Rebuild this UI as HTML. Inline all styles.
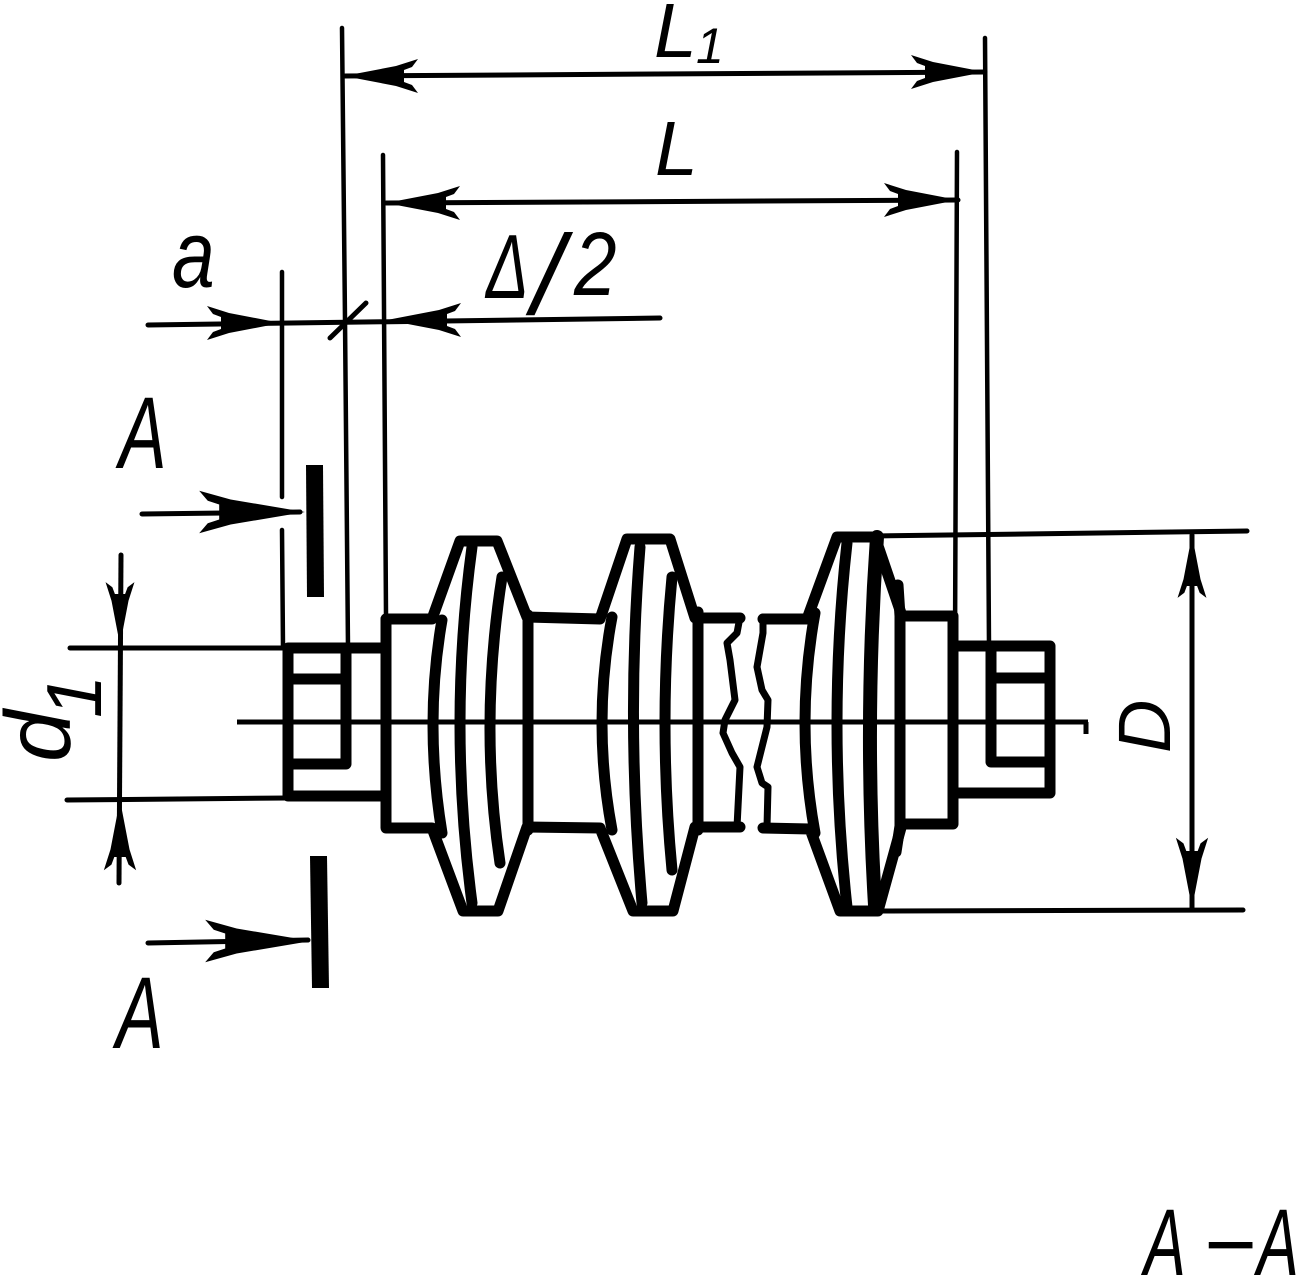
<!DOCTYPE html>
<html>
<head>
<meta charset="utf-8">
<style>
html,body{margin:0;padding:0;background:#fff;}
svg{display:block;}
text{font-family:"Liberation Sans",sans-serif;font-style:italic;fill:#000;}
</style>
</head>
<body>
<svg width="1304" height="1278" viewBox="0 0 1304 1278" xmlns="http://www.w3.org/2000/svg">
<defs>
  <path id="ar" d="M0,0 L-52,-10 L-74,-17 L-68,-9 L-60,-6 L-60,6 L-68,9 L-74,17 L-52,10 Z" fill="#000"/>
</defs>
<rect width="1304" height="1278" fill="#fff"/>

<!-- thin dimension / extension lines -->
<g stroke="#000" stroke-width="5" fill="none" stroke-linecap="round">
  <path d="M344,76 L985,72"/>
  <path d="M386,203 L958,200"/>
  <path d="M148,325 L660,318"/>
  <path d="M121,555 L119,883"/>
  <path d="M1192,535 L1192,908"/>
  <path d="M142,514 L300,512"/>
  <path d="M148,943 L308,940"/>
  <path d="M70,648 L288,648"/>
  <path d="M67,800 L288,798"/>
  <path d="M875,536 L1247,531"/>
  <path d="M878,911 L1243,910"/>
  <path d="M330,338 L366,303"/>
</g>
<g stroke="#000" stroke-width="4.5" fill="none" stroke-linecap="round">
  <path d="M342,28 L345,320 L348,648"/>
  <path d="M985,38 L989,646"/>
  <path d="M383,155 L386,615"/>
  <path d="M957,152 L955,646"/>
  <path d="M282,272 L282,497 M282,530 L283,648"/>
</g>

<!-- centerline -->
<g stroke="#000" stroke-width="5" fill="none">
  <path d="M237,722 L1088,722"/>
  <path d="M1086,722 L1086,734"/>
</g>

<!-- main body outline -->
<g stroke="#000" stroke-width="11" fill="none" stroke-linejoin="round" stroke-linecap="round">
  <path d="M386,619 L432,619 L460,541 L497,541 L527,617 L600,619 L627,539 L670,539 L695,618 L740,618"/>
  <path d="M386,619 L386,828 L432,828 L463,911 L498,911 L527,827 L600,828 L633,911 L673,911 L695,827 L740,827"/>
  <path d="M763,619 L807,619 L837,537 L875,537 L902,616 L953,616 L953,824 L902,824 L878,911 L840,911 L810,829 L763,828"/>
  <!-- shed 1 inner -->
  <path d="M442,620 Q424,723 442,833"/>
  <path d="M472,547 Q448,723 472,903"/>
  <path d="M502,577 Q479,723 500,863"/>
  <path d="M528,615 L528,830"/>
  <!-- shed 2 inner -->
  <path d="M612,617 Q592,723 612,830"/>
  <path d="M640,547 Q626,723 642,903"/>
  <path d="M672,577 Q658,723 672,870"/>
  <path d="M698,612 L698,830"/>
  <!-- shed 3 inner -->
  <path d="M815,613 Q795,723 815,833"/>
  <path d="M847,543 Q827,723 847,907"/>
  <path d="M877,537 Q864,723 875,905" stroke-width="14"/>
  <path d="M898,585 L900,616 L900,826 L896,852"/>
  <!-- left cap -->
  <path d="M386,648 L288,648 L288,796 L386,796"/>
  <path d="M288,679 L346,679 M346,648 L346,764 L288,764"/>
  <!-- right cap -->
  <path d="M953,646 L1050,646 L1050,793 L953,793"/>
  <path d="M991,646 L991,762 L1050,762 M991,678 L1050,678"/>
</g>

<!-- break lines -->
<g stroke="#000" stroke-width="7" fill="none" stroke-linejoin="round" stroke-linecap="round">
  <path d="M740,617 L737,633 L727,643 L730,660 L735,700 L725,720 L723,733 L732,753 L740,767 L737,827"/>
  <path d="M763,617 L763,633 L757,667 L762,690 L768,700 L767,727 L757,767 L762,783 L768,787 L767,827"/>
</g>

<!-- section bars -->
<polygon points="306,465 323,465 324,597 307,597" fill="#000"/>
<polygon points="310,856 327,856 329,988 312,988" fill="#000"/>

<!-- arrowheads -->
<use href="#ar" transform="translate(344,76) rotate(180)"/>
<use href="#ar" transform="translate(985,72)"/>
<use href="#ar" transform="translate(386,203) rotate(180)"/>
<use href="#ar" transform="translate(958,200)"/>
<use href="#ar" transform="translate(281,323)"/>
<use href="#ar" transform="translate(387,320) rotate(180)"/>
<use href="#ar" transform="translate(120,645) rotate(90) scale(0.85)"/>
<use href="#ar" transform="translate(120,800) rotate(-90) scale(0.95)"/>
<use href="#ar" transform="translate(1192,535) rotate(-90) scale(0.85)"/>
<use href="#ar" transform="translate(1192,908) rotate(90) scale(0.95)"/>
<use href="#ar" transform="translate(305,512) scale(1.43,1.25)"/>
<use href="#ar" transform="translate(311,941) scale(1.43,1.25)"/>

<!-- labels -->
<text font-size="77" transform="translate(654,57)">L</text>
<text font-size="50" transform="translate(696,63)">1</text>
<text font-size="77" transform="translate(655,175)">L</text>
<text font-size="96" transform="translate(172,287) scale(0.8,1)">a</text>
<text font-size="91" transform="translate(486,298) scale(0.7,1)">Δ</text>
<text font-size="113" transform="translate(532,314)">/</text>
<text font-size="90" transform="translate(574,295) scale(0.85,1)">2</text>
<text font-size="102" transform="translate(119,468) scale(0.7,1)">A</text>
<text font-size="102" transform="translate(116,1048) scale(0.7,1)">A</text>
<text font-size="74" transform="translate(1170,753) rotate(-90)">D</text>
<text font-size="93" transform="translate(70,762) rotate(-90)">d</text>
<text font-size="78" transform="translate(101,718) rotate(-90)">1</text>
<text font-size="95" transform="translate(1144,1275) scale(0.66,1)">A</text>
<text font-size="90" transform="translate(1203,1275)">−</text>
<text font-size="95" transform="translate(1257,1275) scale(0.66,1)">A</text>
</svg>
</body>
</html>
